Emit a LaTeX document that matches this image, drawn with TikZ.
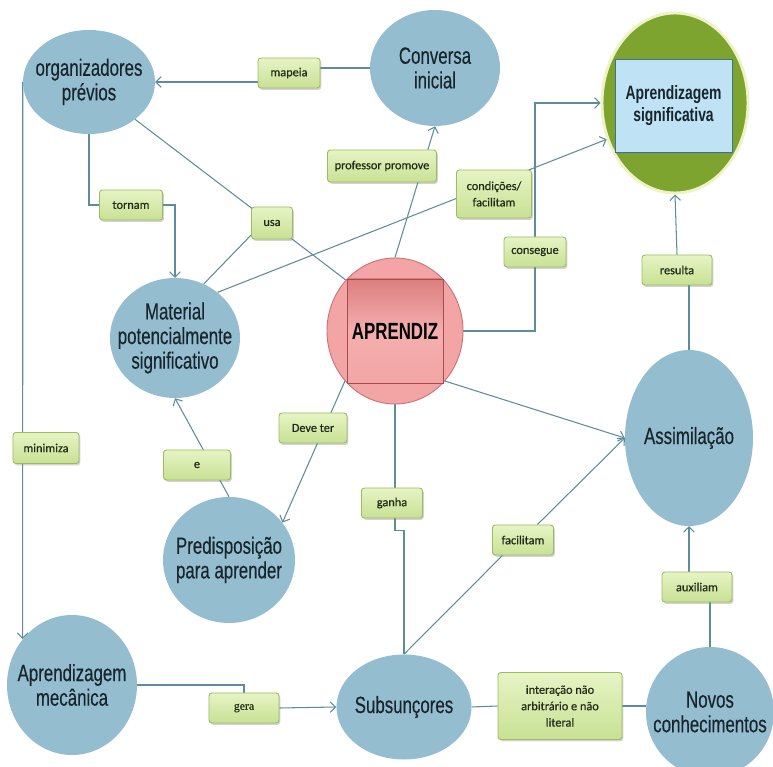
\documentclass[tikz,border=0pt]{standalone}
\usepackage{fontspec}
\usetikzlibrary{shapes.geometric,arrows.meta,shadows,backgrounds}
\newfontfamily\ellfont[FakeStretch=0.72,FakeBold=0.3]{Liberation Sans}
\newfontfamily\aprfont[FakeStretch=0.72]{Liberation Sans}
\newfontfamily\lblfont[FakeBold=0.6]{Carlito}
\newfontfamily\serfont[FakeBold=0.5]{Liberation Serif}
\definecolor{ellblue}{HTML}{94BED0}
\definecolor{elltext}{HTML}{18252C}
\definecolor{linec}{HTML}{5E8C9A}
\definecolor{boxtop}{HTML}{E6F4C4}
\definecolor{boxbot}{HTML}{C8E194}
\definecolor{boxdraw}{HTML}{9DBC62}
\definecolor{lbltext}{HTML}{232C1A}
\definecolor{sigreen}{HTML}{7DA42F}
\definecolor{sigborder}{HTML}{EEF2C4}
\definecolor{sigboxfill}{HTML}{BFE2F4}
\definecolor{sigboxdraw}{HTML}{3F7487}
\definecolor{aprfill}{HTML}{F3A5A5}
\definecolor{aprdraw}{HTML}{C97575}
\definecolor{aprboxdraw}{HTML}{A64C4C}
\tikzset{
  ell/.style={ellipse, fill=ellblue, draw=none, inner sep=0pt},
  elltxt/.style={inner sep=0pt, align=center, text=elltext, font=\ellfont\fontsize{20}{21}\selectfont},
  lbl/.style={rectangle, rounded corners=2.5pt, draw=boxdraw, line width=0.8pt,
    top color=boxtop, bottom color=boxbot,
    drop shadow={opacity=0.35, shadow xshift=1.2pt, shadow yshift=-1.6pt},
    font=\lblfont\fontsize{10.5}{14}\selectfont, text=lbltext, align=center, inner sep=0pt},
  conn/.style={draw=linec, line width=0.9pt},
  arr/.style={conn, -{Straight Barb[length=4.5pt,width=9pt]}}
}
\begin{document}
\begin{tikzpicture}[x=0.03cm,y=-0.03cm]
\useasboundingbox (0,0) rectangle (773,767);
% concept nodes
\node[ell, minimum width=3.96cm, minimum height=3.12cm] (org) at (89,82) {};
\node[elltxt] (orgT) at (org.center) {organizadores\\prévios};
\node[ell, minimum width=3.9cm, minimum height=3.48cm] (conv) at (435,68) {};
\node[elltxt] (convT) at (conv.center) {Conversa\\inicial};
\node[ellipse, fill=sigreen, draw=sigborder, line width=2.5pt, minimum width=4.38cm, minimum height=5.4cm, inner sep=0pt] (sig) at (675,103) {};
\node[rectangle, fill=sigboxfill, draw=sigboxdraw, line width=0.8pt, minimum width=3.51cm, minimum height=2.79cm,
  drop shadow={opacity=0.4, shadow xshift=0.8pt, shadow yshift=-1.6pt}, align=center, text=elltext,
  font=\aprfont\bfseries\fontsize{16.5}{18.5}\selectfont, inner sep=0pt] (sigbox) at (673.5,105.5) {Aprendizagem\\significativa};
\node[ell, minimum width=3.9cm, minimum height=3.6cm] (mat) at (175,338) {};
\node[elltxt] (matT) at (mat.center) {Material\\potencialmente\\significativo};
\node[ellipse, fill=aprfill, draw=aprdraw, line width=0.8pt, minimum width=4.08cm, minimum height=4.38cm, inner sep=0pt] (apr) at (395,331) {};
\node[rectangle, top color=aprfill!85!red!90!black, bottom color=aprfill, middle color=aprfill!90!white, draw=aprboxdraw, line width=0.6pt,
  minimum width=2.88cm, minimum height=3.12cm, inner sep=0pt, text=black,
  font=\aprfont\bfseries\fontsize{20}{22}\selectfont] (aprbox) at (395,331) {APRENDIZ};
\node[ell, minimum width=3.84cm, minimum height=5.28cm] (assim) at (689,438) {};
\node[elltxt] (assimT) at (assim.center) {Assimilação};
\node[ell, minimum width=3.96cm, minimum height=3.78cm] (pred) at (229,560) {};
\node[elltxt] (predT) at (pred.center) {Predisposição\\para aprender};
\node[ell, minimum width=3.9cm, minimum height=4.2cm] (mec) at (72,685) {};
\node[elltxt] (mecT) at (mec.center) {Aprendizagem\\mecânica};
\node[ell, minimum width=4.05cm, minimum height=3.15cm] (sub) at (404,707) {};
\node[elltxt] (subT) at (sub.center) {Subsunçores};
\node[ell, minimum width=3.84cm, minimum height=3.9cm] (novos) at (710,712) {};
\node[elltxt] (novosT) at (novos.center) {Novos\\conhecimentos};
% link labels
\node[lbl, minimum width=1.86cm, minimum height=0.9cm] (mapeia) at (289,73) {mapeia};
\node[lbl, minimum width=3.27cm, minimum height=0.96cm] (profpro) at (382,166) {professor promove};
\node[lbl, minimum width=1.89cm, minimum height=0.9cm] (tornam) at (131,205) {tornam};
\node[lbl, minimum width=1.23cm, minimum height=0.96cm] (usa) at (272,223) {usa};
\node[lbl, minimum width=2.25cm, minimum height=1.44cm] (cond) at (494,194) {condições/\\facilitam};
\node[lbl, minimum width=1.86cm, minimum height=0.9cm] (consegue) at (535,252) {consegue};
\node[lbl, minimum width=2.1cm, minimum height=0.9cm] (resulta) at (677,270) {resulta};
\node[lbl, minimum width=1.98cm, minimum height=0.93cm] (minimiza) at (46,448) {minimiza};
\node[lbl, minimum width=2.01cm, minimum height=0.9cm] (e) at (197,465) {e};
\node[lbl, minimum width=2.04cm, minimum height=0.9cm] (deve) at (313,428) {Deve ter};
\node[lbl, minimum width=1.83cm, minimum height=0.9cm] (ganha) at (392,503) {ganha};
\node[lbl, minimum width=1.83cm, minimum height=0.9cm] (facil) at (523,540) {facilitam};
\node[lbl, minimum width=2.1cm, minimum height=0.9cm] (aux) at (697,587) {auxiliam};
\node[lbl, minimum width=2.1cm, minimum height=0.9cm, font=\serfont\fontsize{10}{12}\selectfont] (gera) at (244,708) {gera};
\node[lbl, minimum width=3.72cm, minimum height=2.01cm] (inter) at (560,706) {interação não\\arbitrário e não\\literal};
% connectors
\begin{scope}[on background layer]
\draw[conn] (conv.west) -- (conv.west -| mapeia.east);
\draw[arr] (mapeia.west |- org.east) -- (org.east);
\draw[conn] (org.south) |- (tornam.west);
\draw[arr] (tornam.east) -| (mat.north);
\draw[conn] (org.-39) -- (apr.134);
\draw[conn] (usa.-150) -- (mat.62);
\draw[arr] (mat.47) -- (sig.208);
\draw[conn] (apr.east) -| (consegue.south);
\draw[arr] (consegue.north) |- (sig.west);
\draw[arr] (apr.north) -- (conv.south);
\draw[arr] (apr.-45) -- (assim.west);
\draw[arr] (apr.-135) -- (pred.35);
\draw[arr] (pred.north) -- (mat.south);
\draw[conn] (apr.south) -- (ganha.north -| apr.south);
\draw[conn] (ganha.south -| apr.south) -- ++(0,12) -| (sub.north);
\draw[conn] (sub.north) -- (facil.-143);
\draw[arr] (facil.47) -- (assim.west);
\draw[arr] (org.west) -- (mec.137);
\draw[conn] (mec.east) -| (gera.north);
\draw[arr] (gera.east) -- (sub.west);
\draw[conn] (sub.east) -- (inter.west);
\draw[conn] (inter.east) -- (inter.east -| novos.west);
\draw[conn] (novos.north) -- (novos.north |- aux.south);
\draw[arr] (aux.north -| assim.south) -- (assim.south);
\draw[conn] (assim.north) -- (assim.north |- resulta.south);
\draw[arr] (resulta.north) -- (sig.south);
\end{scope}
\end{tikzpicture}
\end{document}
